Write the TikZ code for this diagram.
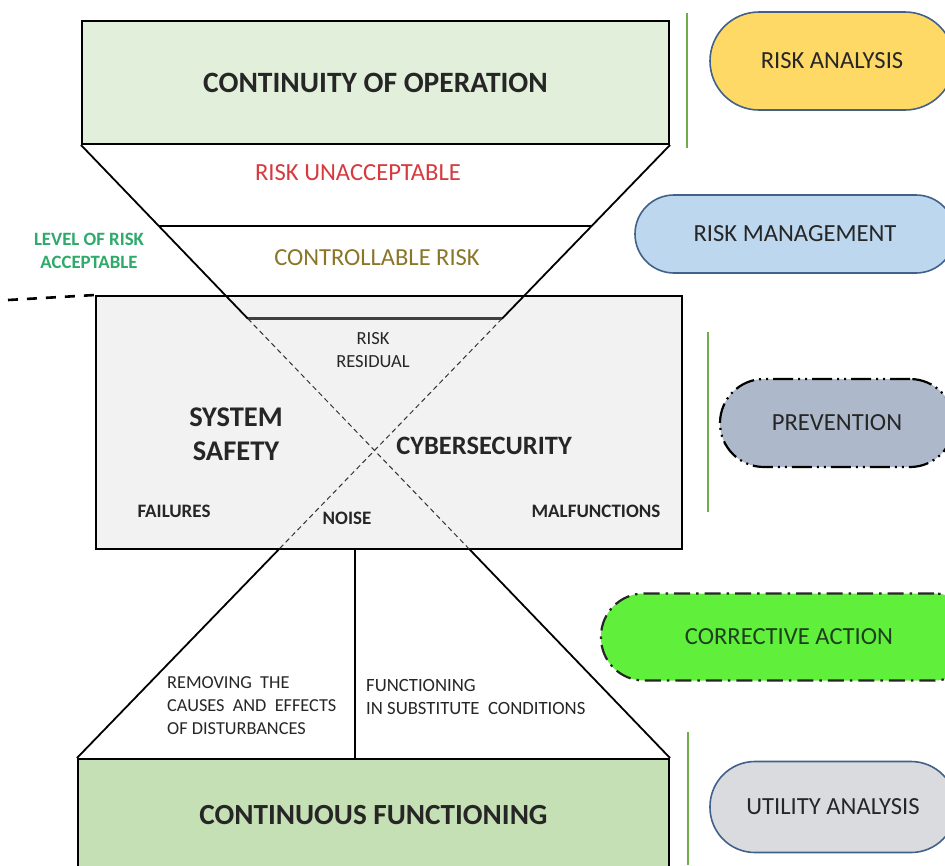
\documentclass[tikz,border=0pt]{standalone}
\usepackage{fontspec}
\setmainfont{Carlito}
\usetikzlibrary{calc}
\definecolor{topfill}{HTML}{E2EFDA}
\definecolor{botfill}{HTML}{C5E0B4}
\definecolor{midfill}{HTML}{F2F2F2}
\definecolor{riskred}{HTML}{D63A3F}
\definecolor{olivetext}{HTML}{8A7628}
\definecolor{accgreen}{HTML}{2EAA6A}
\definecolor{rulegreen}{HTML}{70AD47}
\definecolor{pillline}{HTML}{41618A}
\definecolor{goldfill}{HTML}{FFD966}
\definecolor{bluefill}{HTML}{BDD7EE}
\definecolor{slatefill}{HTML}{ADB9CA}
\definecolor{limefill}{HTML}{60F03C}
\definecolor{greyfill}{HTML}{DADBDF}
\definecolor{ink}{HTML}{262626}
\definecolor{darkgreen}{HTML}{1E3F1E}
\tikzset{
  box/.style={draw=black, line width=2pt, inner sep=0pt},
  edge/.style={draw=black, line width=1.8pt},
  floorline/.style={draw=black!75, line width=3pt},
  xdash/.style={draw=black!80, line width=1pt, dash pattern=on 5pt off 3.5pt},
  leveldash/.style={draw=black, line width=2.6pt, dash pattern=on 10pt off 9pt},
  greenrule/.style={draw=rulegreen, line width=1.8pt},
  pill/.style={draw=pillline, line width=1.6pt, text=ink, inner sep=0pt,
    font=\fontsize{24.6}{26}\selectfont},
  lbl/.style={inner sep=0pt, text=ink},
  small/.style={lbl, font=\fontsize{18.5}{23}\selectfont},
  smallbold/.style={lbl, font=\fontsize{19}{22}\selectfont\bfseries},
  big/.style={lbl, font=\fontsize{28.5}{34}\selectfont\bfseries},
}
\begin{document}
\begin{tikzpicture}[x=1pt,y=-1pt]
\clip (0,0) rectangle (945,865);
\fill[white] (0,0) rectangle (945,865);

% three stacked boxes
\node[box, fill=midfill, minimum width=586pt, minimum height=253pt] (mid) at (389,422.5) {};
\node[box, fill=topfill, minimum width=587pt, minimum height=123pt,
  font=\fontsize{29.5}{32}\selectfont\bfseries, text=ink] (top) at (375.5,82.5) {CONTINUITY OF OPERATION};
\node[box, fill=botfill, minimum width=591pt, minimum height=112pt,
  font=\fontsize{29.2}{32}\selectfont\bfseries, text=ink] (bot) at (373.5,815) {CONTINUOUS FUNCTIONING};

% corners of the hourglass
\coordinate (TL) at (top.south west);
\coordinate (TR) at (top.south east);
\coordinate (BL) at (bot.north west);
\coordinate (BR) at (bot.north east);
\coordinate (L1) at ($(TL)!0.1319!(BR)$);
\coordinate (R1) at ($(TR)!0.1319!(BL)$);
\coordinate (L2) at ($(TL)!0.2834!(BR)$);
\coordinate (R2) at ($(TR)!0.2834!(BL)$);
\coordinate (L3) at ($(TL)!0.6596!(BR)$);
\coordinate (R3) at ($(TR)!0.6596!(BL)$);
\coordinate (M3) at (355,549);
\coordinate (M4) at (355,759);

% upper funnel
\draw[edge] (TL) -- (L2);
\draw[edge] (TR) -- (R2);
\draw[edge] (L1) -- (R1);
\draw[floorline] (L2) -- (R2);
% crossing inside the system box
\draw[xdash] (L2) -- (L3);
\draw[xdash] (R2) -- (R3);
% lower funnel
\draw[edge] (L3) -- (BR);
\draw[edge] (R3) -- (BL);
\draw[edge] (M3) -- (M4);

% acceptable level marker
\coordinate (lv) at (8,300);
\draw[leveldash] (lv) -- (mid.north west);

% green separators
\coordinate (g1a) at (687,13);  \coordinate (g1b) at (687,148);
\coordinate (g2a) at (708,332); \coordinate (g2b) at (708,512);
\coordinate (g3a) at (688,732); \coordinate (g3b) at (688,865);
\draw[greenrule] (g1a) -- (g1b);
\draw[greenrule] (g2a) -- (g2b);
\draw[greenrule] (g3a) -- (g3b);

% funnel labels
\node[lbl, text=riskred, font=\fontsize{24.6}{26}\selectfont] (unacc) at (358,173) {RISK UNACCEPTABLE};
\node[lbl, text=olivetext, font=\fontsize{24.5}{26}\selectfont] (ctrl) at (377,258) {CONTROLLABLE RISK};
\node[lbl, text=accgreen, align=center, font=\fontsize{18.8}{23}\selectfont\bfseries] (level) at (89,251) {LEVEL OF RISK\\ACCEPTABLE};

% system box labels
\node[small, align=center] (resid) at (373,350) {RISK\\RESIDUAL};
\node[big, align=center] (safety) at (236,434) {SYSTEM\\SAFETY};
\node[lbl, font=\fontsize{26.5}{28}\selectfont\bfseries] (cyber) at (484,446) {CYBERSECURITY};
\node[smallbold] (fail) at (174,511) {FAILURES};
\node[smallbold] (noise) at (347,518) {NOISE};
\node[smallbold] (malf) at (596,511) {MALFUNCTIONS};

% lower funnel labels
\node[lbl, align=left, anchor=west, font=\fontsize{18.3}{23}\selectfont] (remove) at (167,706) {REMOVING~ THE\\CAUSES~ AND~ EFFECTS\\OF DISTURBANCES};
\node[lbl, align=left, anchor=west, font=\fontsize{18.7}{23}\selectfont] (subst) at (366,697) {FUNCTIONING\\IN SUBSTITUTE~ CONDITIONS};

% side pills
\node[pill, fill=goldfill, minimum width=244pt, minimum height=98pt, rounded corners=49pt] (analysis) at (832,61) {RISK ANALYSIS};
\node[pill, fill=bluefill, minimum width=320pt, minimum height=78pt, rounded corners=39pt] (mgmt) at (795,234) {RISK MANAGEMENT};
\node[pill, draw=black, fill=slatefill, minimum width=234pt, minimum height=88pt, rounded corners=44pt,
  line width=2.2pt, dash pattern=on 20pt off 5pt on 2pt off 5pt on 2pt off 5pt] (prev) at (837,423) {PREVENTION};
\node[pill, draw=black!85, fill=limefill, text=darkgreen, minimum width=376pt, minimum height=87pt, rounded corners=43pt,
  line width=2.2pt, dash pattern=on 16pt off 6pt on 2.5pt off 6pt] (corr) at (789,637) {CORRECTIVE ACTION};
\node[pill, fill=greyfill, minimum width=246pt, minimum height=91pt, rounded corners=45pt] (util) at (833,807) {UTILITY ANALYSIS};
\end{tikzpicture}
\end{document}
